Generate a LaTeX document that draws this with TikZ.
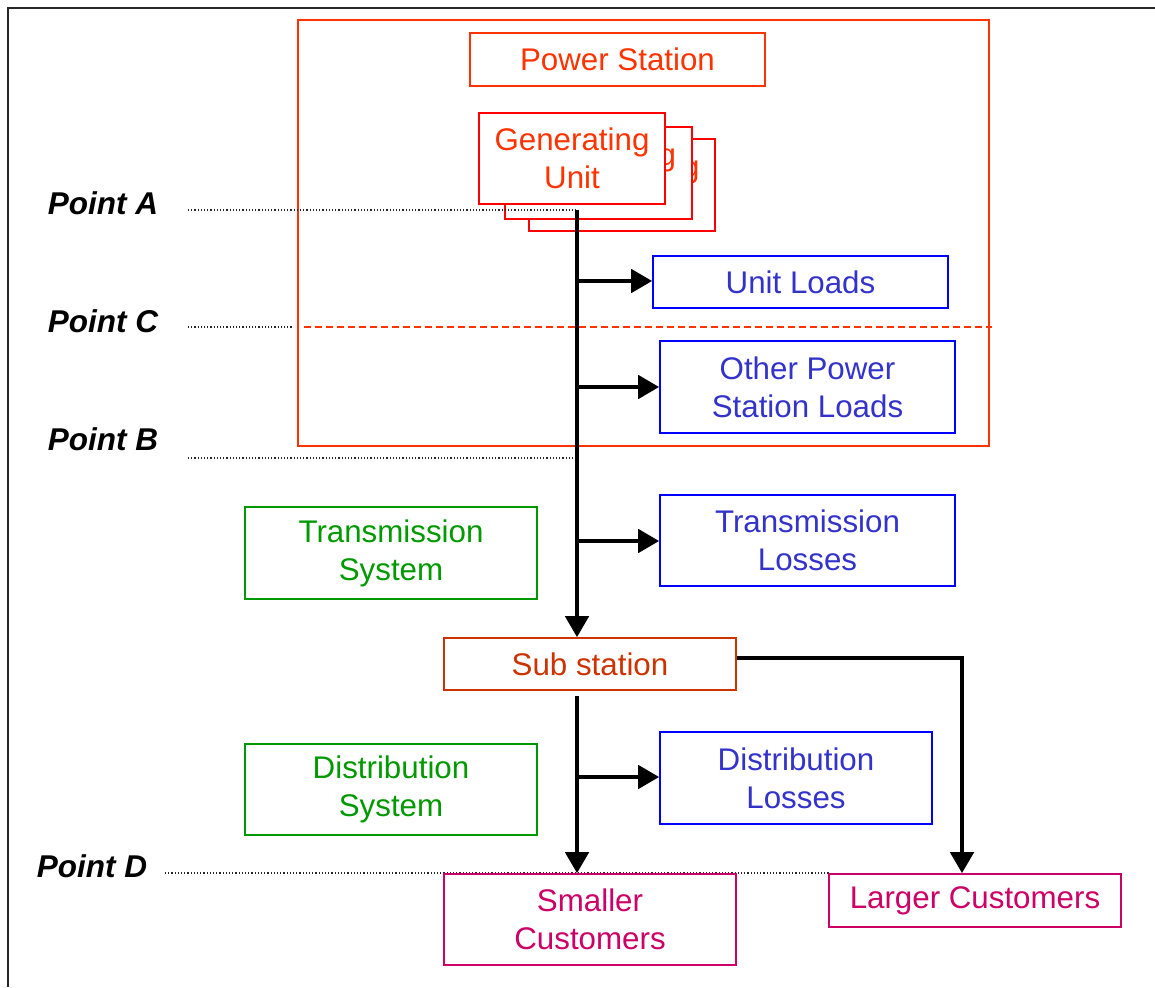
\documentclass[tikz,border=0pt]{standalone}
\usepackage{fontspec}
\setmainfont{Liberation Sans}
\usetikzlibrary{arrows.meta}
\definecolor{psred}{HTML}{FF3300}
\definecolor{gured}{HTML}{FF0000}
\definecolor{subred}{HTML}{CC3300}
\definecolor{bltext}{HTML}{3333CC}
\definecolor{blline}{HTML}{0000FF}
\definecolor{grn}{HTML}{009900}
\definecolor{mag}{HTML}{CC0066}
\tikzset{
  box/.style={draw, line width=1.6pt, fill=white, inner sep=0pt, align=center,
    font=\fontsize{31.3}{38}\selectfont},
  psbox/.style={box, draw=psred, text=psred},
  gubox/.style={box, draw=gured, text=psred},
  subbox/.style={box, draw=subred, text=subred},
  lossbox/.style={box, draw=blline, text=bltext},
  sysbox/.style={box, draw=grn, text=grn},
  custbox/.style={box, draw=mag, text=mag},
  ptlabel/.style={font=\fontsize{31.5}{36}\selectfont\bfseries\itshape, inner sep=0pt},
  dotline/.style={line width=1.2pt, dotted, black!85},
  flow/.style={line width=4.5pt, -{Triangle[width=23pt,length=21pt]}},
  flowplain/.style={line width=4.5pt}
}
\begin{document}
\begin{tikzpicture}[x=1pt,y=-1pt]
\useasboundingbox (0,0) rectangle (1155,987);
% outer frame (top and left visible)
\draw[line width=1.5pt, black!85] (8,987) -- (8,8) -- (1155,8);

% power station boundary
\draw[psred, line width=1.6pt] (298,20) rectangle (989,446);

% point lines
\node[ptlabel] (pA) at (103,203) {Point A};
\node[ptlabel] (pC) at (103,321) {Point C};
\node[ptlabel] (pB) at (103,439) {Point B};
\node[ptlabel] (pD) at (92,866) {Point D};
\coordinate (pAs) at (188,210);
\coordinate (pAe) at (577,210);
\coordinate (pCs) at (188,327);
\coordinate (pCe) at (292,327);
\coordinate (pCr) at (304,327);
\coordinate (pCre) at (992,327);
\coordinate (pBs) at (188,458);
\coordinate (pBe) at (575,458);
\coordinate (pDs) at (165,873);
\coordinate (pDe) at (830,873);
\draw[dotline] (pCs) -- (pCe);
\draw[psred, line width=1.6pt, dash pattern=on 7pt off 4pt] (pCr) -- (pCre);
\draw[dotline] (pBs) -- (pBe);
\draw[dotline] (pDs) -- (pDe);

% nodes
\node[psbox, minimum width=295, minimum height=53] (ps) at (617.5,59.5) {Power Station};
\node[gubox, minimum width=186, minimum height=92] (gu3) at (622,185) {Generating\\Unit};
\node[gubox, minimum width=187, minimum height=92] (gu2) at (598.5,173) {Generating\\Unit};
\node[gubox, minimum width=186, minimum height=91] (gu1) at (572,158.5) {Generating\\Unit};
\draw[dotline] (pAs) -- (pAe);

\node[lossbox, minimum width=295, minimum height=52] (ul) at (800.5,282) {Unit Loads};
\node[lossbox, minimum width=295, minimum height=92] (opl) at (807.5,387) {Other Power\\Station Loads};
\node[lossbox, minimum width=295, minimum height=91] (tl) at (807.5,540.5) {Transmission\\Losses};
\node[sysbox, minimum width=292, minimum height=92] (ts) at (391,553) {Transmission\\System};
\node[subbox, minimum width=292, minimum height=52] (ss) at (590,664) {Sub station};
\node[sysbox, minimum width=292, minimum height=91] (ds) at (391,789.5) {Distribution\\System};
\node[lossbox, minimum width=272, minimum height=92] (dl) at (796,778) {Distribution\\Losses};
\node[custbox, minimum width=292, minimum height=91] (sc) at (590,919.5) {Smaller\\Customers};
\node[custbox, minimum width=292, minimum height=53] (lc) at (975,900.5) {Larger Customers};

% flows
\coordinate (trunkTop) at (577,210);
\coordinate (b1) at (577,281);
\coordinate (b2) at (577,387);
\coordinate (b3) at (577,541);
\draw[flowplain] (trunkTop) -- (b1);
\draw[flow] (trunkTop) -- (trunkTop |- ss.north);
\draw[flow] (b1) -- (ul.west |- b1);
\draw[flow] (b2) -- (opl.west |- b2);
\draw[flow] (b3) -- (tl.west |- b3);

\coordinate (lowTop) at (577,696);
\coordinate (b4) at (577,777);
\coordinate (corner) at (962,658);
\draw[flow] (lowTop) -- (lowTop |- sc.north);
\draw[flow] (b4) -- (dl.west |- b4);
\draw[flow] (ss.east |- corner) -- (corner) -- (corner |- lc.north);
\end{tikzpicture}
\end{document}
